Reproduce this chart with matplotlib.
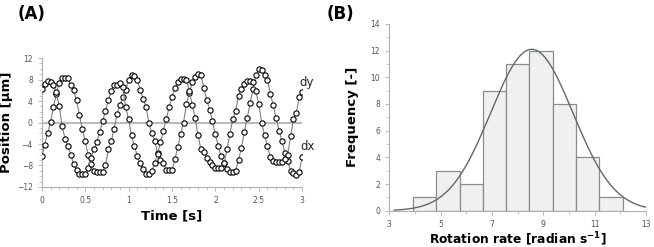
import numpy as np
import matplotlib
matplotlib.use("Agg")
import matplotlib.pyplot as plt
from matplotlib.ticker import MultipleLocator

# ---- panel A: bead position, sampled every 1/30 s ----
t = np.arange(91) / 30.0

dx = [-6.3, -4.1, -2.0, 0.1, 2.8, 5.4, 7.4, 8.2, 8.2, 8.2,
      7.0, 6.0, 4.1, 1.4, -1.3, -3.5, -6.0, -7.8, -9.0, -9.2,
      -9.2, -9.2, -7.9, -5.0, -3.4, -1.2, 1.6, 3.3, 4.8, 6.0,
      8.0, 8.9, 8.6, 8.0, 6.1, 4.4, 2.9, 0.0, -2.0, -3.4,
      -5.6, -6.9, -7.6, -8.8, -8.9, -8.9, -6.8, -4.6, -2.2, 0.0,
      3.5, 5.5, 7.5, 8.5, 9.1, 8.8, 6.5, 4.2, 2.4, 0.2,
      -2.2, -4.4, -6.3, -7.6, -8.6, -9.2, -9.2, -9.0, -7.0, -4.7,
      -1.8, 0.8, 3.6, 6.2, 8.8, 10.0, 9.7, 8.8, 7.9, 5.4,
      3.2, 0.8, -1.5, -3.4, -5.6, -7.2, -9.0, -9.4, -9.8, -9.2,
      -6.4]

dy = [6.3, 7.2, 7.8, 7.6, 7.0, 5.6, 3.0, -0.6, -3.0, -4.4,
      -6.0, -7.8, -8.8, -9.6, -9.6, -9.6, -8.5, -6.6, -5.0, -3.6,
      -1.8, 0.2, 2.2, 4.2, 5.9, 7.0, 7.0, 7.3, 6.6, 2.8,
      0.6, -2.4, -4.4, -6.2, -7.6, -8.7, -9.6, -9.6, -9.0, -7.6,
      -5.8, -3.7, -1.5, 0.6, 2.8, 4.8, 6.4, 7.6, 8.1, 8.1,
      7.9, 5.9, 3.3, 0.9, -2.4, -5.0, -5.4, -6.6, -7.4, -8.0,
      -8.4, -8.4, -8.4, -7.6, -5.0, -2.2, 0.6, 2.2, 5.0, 6.3,
      7.2, 7.8, 7.8, 7.6, 5.8, 3.4, 0.0, -2.4, -4.4, -6.4,
      -7.1, -7.3, -7.4, -7.3, -6.8, -6.0, -2.6, 0.7, 1.8, 4.8,
      5.7]

# ---- panel B: histogram of rotation rates ----
bin_edges = [3.92, 4.83, 5.74, 6.64, 7.55, 8.46, 9.37, 10.28, 11.18, 12.09]
counts = [1, 3, 2, 9, 11, 12, 8, 4, 1]
fit_mean, fit_sigma, fit_amp = 8.55, 1.6, 12.1

tick_col = "#555555"
axis_col = "#b0b0b0"

fig = plt.figure(figsize=(6.54, 2.47), dpi=100)

def style_axes(ax):
    for s in ["top", "right"]:
        ax.spines[s].set_visible(False)
    for s in ["left", "bottom"]:
        ax.spines[s].set_color(axis_col)
        ax.spines[s].set_linewidth(0.8)
    ax.tick_params(which="both", colors=axis_col, labelcolor=tick_col,
                   labelsize=5.5, direction="out")
    ax.tick_params(which="major", length=3, width=0.6)
    ax.tick_params(which="minor", length=2, width=0.5)

# panel A
ax1 = fig.add_axes([0.064, 0.243, 0.398, 0.522])
ax1.axhline(0, color="#b8bcbc", lw=1.5, zorder=1)
for ser in (dx, dy):
    ax1.plot(t, ser, color="#808080", lw=0.8, marker="o", ms=3.8,
             mfc="white", mec="black", mew=0.8, zorder=3)
ax1.set_xlim(0, 3)
ax1.set_ylim(-12, 12)
ax1.set_xticks([0, 0.5, 1, 1.5, 2, 2.5, 3])
ax1.set_xticklabels(["0", "0.5", "1", "1.5", "2", "2.5", "3"])
ax1.set_yticks(range(-12, 13, 4))
ax1.xaxis.set_minor_locator(MultipleLocator(0.1))
ax1.yaxis.set_minor_locator(MultipleLocator(1))
style_axes(ax1)
ax1.set_xlabel("Time [s]", fontsize=9.5, fontweight="bold", labelpad=3)
ax1.set_ylabel("Position [\u03bcm]", fontsize=9.5, fontweight="bold", labelpad=3)
ax1.text(2.965, 7.4, "dy", fontsize=8.5, color="#222222", va="center", clip_on=False)
ax1.text(2.975, -4.4, "dx", fontsize=8.5, color="#222222", va="center", clip_on=False)
fig.text(0.027, 0.945, "(A)", fontsize=12, fontweight="bold", va="center")

# panel B
ax2 = fig.add_axes([0.595, 0.147, 0.393, 0.756])
widths = np.diff(bin_edges)
ax2.bar(bin_edges[:-1], counts, width=widths, align="edge",
        color="#f0f0f0", edgecolor="#8c8c8c", linewidth=0.9, zorder=2)
xs = np.linspace(3.2, 13, 300)
ax2.plot(xs, fit_amp * np.exp(-(xs - fit_mean) ** 2 / (2 * fit_sigma ** 2)),
         color="#5f6b6b", lw=1.0, zorder=3)
ax2.set_xlim(3, 13)
ax2.set_ylim(0, 14)
ax2.set_xticks([3, 5, 7, 9, 11, 13])
ax2.set_yticks(range(0, 15, 2))
ax2.xaxis.set_minor_locator(MultipleLocator(1))
ax2.yaxis.set_minor_locator(MultipleLocator(1))
style_axes(ax2)
ax2.set_xlabel("Rotation rate [radian s$^{\\mathbf{-1}}$]", fontsize=8.8,
               fontweight="bold", labelpad=1)
ax2.set_ylabel("Frequency [-]", fontsize=9.5, fontweight="bold", labelpad=8)
fig.text(0.5, 0.945, "(B)", fontsize=12, fontweight="bold", va="center")

fig.savefig("out.png", dpi=100)
